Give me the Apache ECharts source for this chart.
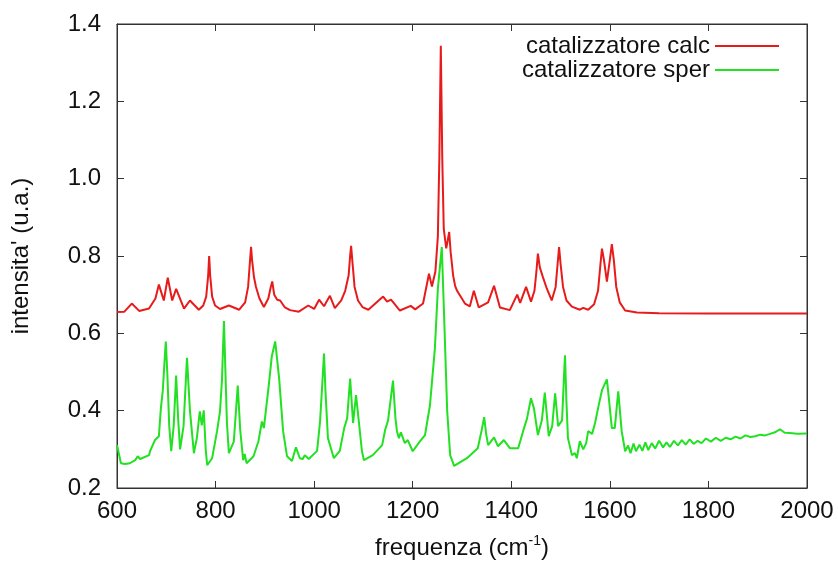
<!DOCTYPE html>
<html>
<head>
<meta charset="utf-8">
<script src="https://cdn.jsdelivr.net/npm/echarts@6/dist/echarts.min.js"></script>
<style>
  html, body { margin: 0; padding: 0; background: #fff; }
  #chart { width: 838px; height: 565px; }
</style>
</head>
<body>
<div id="chart"></div>
<script>
// spettro calcolato
var calcX = [600, 615, 630, 645, 665, 678, 685, 695, 703, 712, 720, 736, 748, 766, 775, 781, 785, 787, 789, 793, 799, 809, 827, 848, 860, 866, 870, 872, 874, 878, 882, 889, 898, 907, 912, 915, 919, 925, 931, 940, 951, 969, 988, 1000, 1010, 1020, 1032, 1042, 1055, 1063, 1070, 1073, 1075, 1078, 1082, 1089, 1098, 1110, 1140, 1148, 1156, 1174, 1196, 1205, 1221, 1233, 1239, 1246, 1251, 1254, 1257, 1260, 1263, 1268, 1271, 1274, 1277, 1282, 1286, 1290, 1294, 1306, 1316, 1324, 1334, 1353, 1365, 1377, 1397, 1412, 1418, 1430, 1440, 1447, 1451, 1454, 1458, 1464, 1472, 1482, 1490, 1494, 1497, 1500, 1505, 1512, 1523, 1539, 1546, 1556, 1568, 1576, 1581, 1584, 1588, 1594, 1600, 1604, 1608, 1613, 1620, 1631, 1655, 1700, 1800, 1900, 2000];
var calcY = [0.655, 0.656, 0.677, 0.658, 0.664, 0.69, 0.726, 0.685, 0.744, 0.685, 0.715, 0.664, 0.685, 0.661, 0.672, 0.695, 0.75, 0.80, 0.75, 0.695, 0.672, 0.663, 0.672, 0.661, 0.68, 0.72, 0.79, 0.824, 0.79, 0.745, 0.72, 0.69, 0.668, 0.69, 0.72, 0.734, 0.70, 0.687, 0.685, 0.668, 0.66, 0.656, 0.672, 0.663, 0.687, 0.67, 0.697, 0.665, 0.685, 0.71, 0.75, 0.80, 0.826, 0.78, 0.72, 0.685, 0.668, 0.661, 0.695, 0.682, 0.687, 0.659, 0.671, 0.662, 0.677, 0.754, 0.721, 0.76, 0.85, 1.05, 1.344, 1.05, 0.87, 0.82, 0.84, 0.862, 0.81, 0.75, 0.723, 0.71, 0.713, 0.677, 0.67, 0.71, 0.667, 0.68, 0.723, 0.667, 0.66, 0.70, 0.679, 0.72, 0.682, 0.71, 0.76, 0.806, 0.77, 0.746, 0.716, 0.685, 0.72, 0.78, 0.823, 0.78, 0.72, 0.685, 0.669, 0.661, 0.666, 0.661, 0.675, 0.71, 0.78, 0.819, 0.79, 0.734, 0.79, 0.831, 0.79, 0.72, 0.68, 0.659, 0.654, 0.652, 0.651, 0.651, 0.651];

// spettro sperimentale
var sperX = [600, 604, 608, 616, 626, 637, 642, 647, 665, 667, 677, 685, 689, 693, 697, 699, 702, 706, 710, 715, 720, 724, 728, 735, 742, 748, 756, 762, 768, 772, 776, 780, 783, 793, 803, 809, 813, 817, 820, 823, 827, 837, 845, 850, 856, 859, 863, 877, 887, 894, 898, 908, 914, 921, 929, 937, 945, 955, 963, 971, 977, 981, 989, 1006, 1012, 1017, 1020, 1023, 1028, 1040, 1052, 1061, 1067, 1073, 1079, 1085, 1090, 1097, 1101, 1119, 1138, 1144, 1150, 1160, 1165, 1168, 1172, 1176, 1184, 1190, 1200, 1215, 1225, 1235, 1245, 1251, 1259, 1263, 1270, 1276, 1284, 1310, 1332, 1340, 1345, 1349, 1353, 1365, 1373, 1385, 1397, 1414, 1424, 1432, 1440, 1446, 1454, 1462, 1468, 1476, 1483, 1489, 1495, 1503, 1507, 1509, 1512, 1515, 1523, 1529, 1533, 1539, 1546, 1552, 1556, 1564, 1570, 1576, 1584, 1594, 1598, 1604, 1610, 1617, 1624, 1631, 1637, 1642, 1648, 1653, 1660, 1666, 1672, 1678, 1685, 1692, 1700, 1708, 1715, 1722, 1730, 1738, 1746, 1754, 1762, 1770, 1778, 1786, 1795, 1805, 1815, 1825, 1835, 1845, 1855, 1865, 1875, 1885, 1895, 1905, 1915, 1925, 1935, 1945, 1955, 1965, 1980, 2000];
var sperY = [0.311, 0.315, 0.264, 0.262, 0.264, 0.272, 0.282, 0.275, 0.285, 0.295, 0.324, 0.334, 0.406, 0.453, 0.54, 0.579, 0.50, 0.36, 0.295, 0.36, 0.491, 0.38, 0.30, 0.36, 0.537, 0.40, 0.29, 0.329, 0.398, 0.362, 0.401, 0.30, 0.259, 0.277, 0.347, 0.398, 0.48, 0.632, 0.50, 0.37, 0.29, 0.32, 0.465, 0.35, 0.272, 0.288, 0.264, 0.282, 0.321, 0.372, 0.355, 0.466, 0.54, 0.579, 0.483, 0.347, 0.282, 0.27, 0.305, 0.277, 0.275, 0.285, 0.275, 0.296, 0.372, 0.48, 0.548, 0.45, 0.329, 0.277, 0.296, 0.355, 0.38, 0.483, 0.368, 0.44, 0.38, 0.295, 0.272, 0.285, 0.311, 0.35, 0.375, 0.478, 0.38, 0.347, 0.329, 0.344, 0.316, 0.324, 0.295, 0.321, 0.337, 0.414, 0.561, 0.715, 0.823, 0.672, 0.398, 0.285, 0.257, 0.277, 0.303, 0.35, 0.383, 0.34, 0.311, 0.331, 0.308, 0.324, 0.303, 0.303, 0.347, 0.38, 0.432, 0.406, 0.337, 0.375, 0.447, 0.334, 0.36, 0.445, 0.36, 0.375, 0.49, 0.543, 0.42, 0.329, 0.285, 0.29, 0.277, 0.321, 0.30, 0.316, 0.347, 0.34, 0.368, 0.406, 0.453, 0.481, 0.432, 0.355, 0.355, 0.45, 0.347, 0.295, 0.31, 0.29, 0.315, 0.295, 0.312, 0.296, 0.318, 0.298, 0.316, 0.302, 0.322, 0.305, 0.318, 0.306, 0.322, 0.31, 0.324, 0.312, 0.326, 0.314, 0.322, 0.316, 0.328, 0.32, 0.33, 0.322, 0.33, 0.326, 0.333, 0.328, 0.336, 0.332, 0.334, 0.338, 0.336, 0.34, 0.344, 0.352, 0.343, 0.342, 0.34, 0.341];

var seriesNames = ["catalizzatore calc", "catalizzatore sper"];
var xTicks = [600, 800, 1000, 1200, 1400, 1600, 1800, 2000];
var yTicks = [0.2, 0.4, 0.6, 0.8, 1.0, 1.2, 1.4];

function pairs(xs, ys) {
  return xs.map(function (x, i) {
    return [x, ys[i]];
  });
}

var chart = echarts.init(document.getElementById("chart"));
var font = "Liberation Sans, Arial, sans-serif";
var frameColor = "#333";
var textColor = "#111";

var option = {
  animation: false,
  textStyle: { fontFamily: font },
  grid: {
    left: 117,
    right: 31,
    top: 24,
    bottom: 75,
    show: true,
    borderColor: frameColor,
    borderWidth: 1,
  },
  legend: {
    orient: "vertical",
    align: "right",
    right: 54,
    top: 29,
    icon: "path://M0,0H64V2H0Z",
    itemWidth: 64,
    itemHeight: 2,
    itemGap: 0,
    textStyle: { fontSize: 24, color: textColor, fontFamily: font },
    data: seriesNames,
  },
  xAxis: [
    {
      type: "value",
      min: xTicks[0],
      max: xTicks[xTicks.length - 1],
      interval: 200,
      name: "frequenza (cm{sup|-1})",
      nameLocation: "middle",
      nameGap: 46,
      nameTextStyle: {
        fontSize: 24,
        color: textColor,
        rich: {
          sup: { fontSize: 14, color: textColor, padding: [0, 0, 14, 0] },
        },
      },
      axisLine: { lineStyle: { color: frameColor } },
      axisTick: { inside: true, length: 7, lineStyle: { color: frameColor } },
      axisLabel: {
        fontSize: 24,
        color: textColor,
        margin: 11,
        formatter: function (v) {
          return String(v);
        },
      },
      splitLine: { show: false },
    },
    {
      type: "value",
      position: "top",
      min: xTicks[0],
      max: xTicks[xTicks.length - 1],
      interval: 200,
      axisLine: { lineStyle: { color: frameColor } },
      axisTick: { inside: true, length: 7, lineStyle: { color: frameColor } },
      axisLabel: { show: false },
      splitLine: { show: false },
    },
  ],
  yAxis: [
    {
      type: "value",
      min: yTicks[0],
      max: yTicks[yTicks.length - 1],
      interval: 0.2,
      name: "intensita' (u.a.)",
      nameLocation: "middle",
      nameGap: 84,
      nameTextStyle: { fontSize: 24, color: textColor },
      axisLine: { show: true, lineStyle: { color: frameColor } },
      axisTick: { show: true, inside: true, length: 7, lineStyle: { color: frameColor } },
      axisLabel: {
        fontSize: 24,
        color: textColor,
        margin: 16,
        formatter: function (v) {
          return v.toFixed(1);
        },
      },
      splitLine: { show: false },
    },
    {
      type: "value",
      position: "right",
      min: yTicks[0],
      max: yTicks[yTicks.length - 1],
      interval: 0.2,
      axisLine: { show: true, lineStyle: { color: frameColor } },
      axisTick: { show: true, inside: true, length: 7, lineStyle: { color: frameColor } },
      axisLabel: { show: false },
      splitLine: { show: false },
    },
  ],
  series: [
    {
      name: seriesNames[0],
      type: "line",
      symbol: "none",
      lineStyle: { color: "#e81b1b", width: 2 },
      itemStyle: { color: "#e81b1b" },
      data: pairs(calcX, calcY),
    },
    {
      name: seriesNames[1],
      type: "line",
      symbol: "none",
      lineStyle: { color: "#22e022", width: 2 },
      itemStyle: { color: "#22e022" },
      data: pairs(sperX, sperY),
    },
  ],
};

chart.setOption(option);
</script>
</body>
</html>
